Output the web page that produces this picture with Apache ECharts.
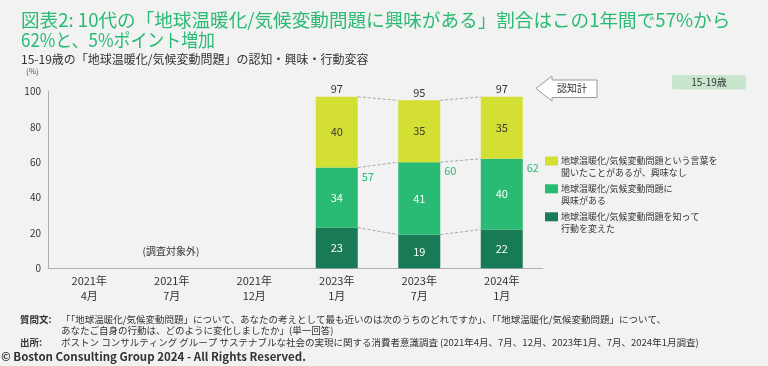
<!DOCTYPE html>
<html><head><meta charset="utf-8">
<script src="https://cdn.jsdelivr.net/npm/echarts@6/dist/echarts.min.js"></script>
<style>html,body{margin:0;padding:0;background:#f2f2f2;}#c{width:768px;height:366px;}</style>
</head><body><div id="c"></div>
<script>
const categories = ['2021年\n4月','2021年\n7月','2021年\n12月','2023年\n1月','2023年\n7月','2024年\n1月'];
const actionChanged = [null,null,null,23,19,22];
const interested = [null,null,null,34,41,40];
const notInterested = [null,null,null,40,35,35];
const seriesNames = ['地球温暖化/気候変動問題を知って\n行動を変えた','地球温暖化/気候変動問題に\n興味がある','地球温暖化/気候変動問題という言葉を\n聞いたことがあるが、興味なし'];
const yTicks = [0,20,40,60,80,100];

const C_DARK='#197a56', C_MID='#29ba74', C_YEL='#d4df33';
const FONT='"Noto Sans CJK JP","Noto Sans",sans-serif';

const surveyed = categories.map((c,i)=>i).filter(i=>actionChanged[i]!=null);
const levels = i => [actionChanged[i], actionChanged[i]+interested[i], actionChanged[i]+interested[i]+notInterested[i]];

function txt(x,y,text,o){
  o=o||{};
  return {type:'text',x:x,y:y,scaleX:o.sx||1,silent:true,z:10,
    style:{text:text,x:0,y:0,fill:o.fill||'#333',fontSize:o.size||10,fontFamily:FONT,fontWeight:o.weight||'normal',
      textAlign:o.align||'left',textVerticalAlign:'middle'}};
}

const chart = echarts.init(document.getElementById('c'),null,{renderer:'canvas'});
const barW = 42;
const option = {
  backgroundColor:'#f2f2f2',
  animation:false,
  grid:{left:48,right:225,top:91.5,bottom:97.7},
  xAxis:{type:'category',data:categories,axisLine:{lineStyle:{color:'#b0b0b0'}},axisTick:{show:false},
    axisLabel:{color:'#333',fontSize:11,lineHeight:15,margin:5,fontFamily:FONT}},
  yAxis:{type:'value',min:0,max:100,interval:20,splitLine:{show:false},
    axisLine:{show:true,lineStyle:{color:'#b0b0b0'}},axisTick:{show:false},
    axisLabel:{color:'#333',fontSize:10,margin:7,fontFamily:FONT}},
  series:[
    {name:seriesNames[0],type:'bar',stack:'a',barWidth:barW,data:actionChanged,itemStyle:{color:C_DARK},
      label:{show:true,position:'inside',color:'#fff',fontSize:11,fontFamily:FONT}},
    {name:seriesNames[1],type:'bar',stack:'a',barWidth:barW,data:interested,itemStyle:{color:C_MID},
      label:{show:true,position:'inside',color:'#fff',fontSize:11,fontFamily:FONT}},
    {name:seriesNames[2],type:'bar',stack:'a',barWidth:barW,data:notInterested,itemStyle:{color:C_YEL},
      label:{show:true,position:'inside',color:'#3a3a3a',fontSize:11,fontFamily:FONT}},
    {type:'custom',data:surveyed.map(i=>[i]),encode:{x:0},z:5,silent:true,
      renderItem:function(params,api){
        const i = api.value(0);
        const lv = levels(i);
        const cx = api.coord([i,0])[0];
        const children=[];
        const pTop = api.coord([i,lv[2]]);
        children.push({type:'text',style:{text:String(lv[2]),x:cx,y:pTop[1]-8,fill:'#333',fontSize:11,fontFamily:FONT,textAlign:'center',textVerticalAlign:'middle'}});
        const pMid = api.coord([i,lv[1]]);
        children.push({type:'text',style:{text:String(lv[1]),x:cx+barW/2+10,y:pMid[1]+9,fill:C_MID,fontSize:11,fontFamily:FONT,textAlign:'center',textVerticalAlign:'middle'}});
        const k = surveyed.indexOf(i);
        if(k<surveyed.length-1){
          const j = surveyed[k+1];
          const lj = levels(j);
          const nx = api.coord([j,0])[0];
          for(let m=0;m<3;m++){
            const y1=api.coord([i,lv[m]])[1], y2=api.coord([j,lj[m]])[1];
            children.push({type:'line',shape:{x1:cx+barW/2,y1:y1,x2:nx-barW/2,y2:y2},style:{stroke:'#a8a8a8',lineWidth:1,lineDash:[3,2]}});
          }
        }
        return {type:'group',children:children};
      }}
  ],
  graphic:[
    txt(21,20,'図表2: 10代の「地球温暖化/気候変動問題に興味がある」割合はこの1年間で57%から',{fill:C_MID,size:18.6}),
    txt(21,40,'62%と、5%ポイント増加',{fill:C_MID,size:18.6,sx:0.91}),
    txt(21,59,'15-19歳の「地球温暖化/気候変動問題」の認知・興味・行動変容',{size:12}),
    txt(26,71,'(%)',{size:8,fill:'#555'}),
    txt(171,251,'(調査対象外)',{size:10,align:'center'}),
    // 認知計 arrow
    {type:'polygon',shape:{points:[[536,88.5],[552,76],[552,80],[597,80],[597,97.5],[552,97.5],[552,101]]},style:{fill:'#fff',stroke:'#999',lineWidth:1}},
    txt(572,88.5,'認知計',{size:10,align:'center'}),
    // 15-19歳 box
    {type:'rect',shape:{x:672,y:75,width:74,height:14.5,r:2},style:{fill:'#c8e6cd'}},
    txt(709,82.3,'15-19歳',{size:10,align:'center'}),
    // legend
    {type:'rect',shape:{x:545,y:156.5,width:13,height:9},style:{fill:C_YEL}},
    txt(561,160.7,'地球温暖化/気候変動問題という言葉を',{size:9}),
    txt(561,172.7,'聞いたことがあるが、興味なし',{size:9}),
    {type:'rect',shape:{x:545,y:184.3,width:13,height:9},style:{fill:C_MID}},
    txt(561,188.5,'地球温暖化/気候変動問題に',{size:9}),
    txt(561,201,'興味がある',{size:9}),
    {type:'rect',shape:{x:545,y:212.3,width:13,height:9},style:{fill:C_DARK}},
    txt(561,216.5,'地球温暖化/気候変動問題を知って',{size:9}),
    txt(561,229,'行動を変えた',{size:9}),
    // footer
    txt(20,319,'質問文:',{size:9.5,weight:'bold'}),
    txt(61,319,'「「地球温暖化/気候変動問題」について、あなたの考えとして最も近いのは次のうちのどれですか」、「「地球温暖化/気候変動問題」について、',{size:9.5}),
    txt(61,330.5,'あなたご自身の行動は、どのように変化しましたか」(単一回答)',{size:9.5}),
    txt(20,342,'出所:',{size:9.5,weight:'bold'}),
    txt(61,342,'ボストン コンサルティング グループ サステナブルな社会の実現に関する消費者意識調査 (2021年4月、7月、12月、2023年1月、7月、2024年1月調査)',{size:9.5}),
    txt(1,357,'© Boston Consulting Group 2024 - All Rights Reserved.',{size:11.5,weight:'bold'})
  ]
};
chart.setOption(option);
</script></body></html>
